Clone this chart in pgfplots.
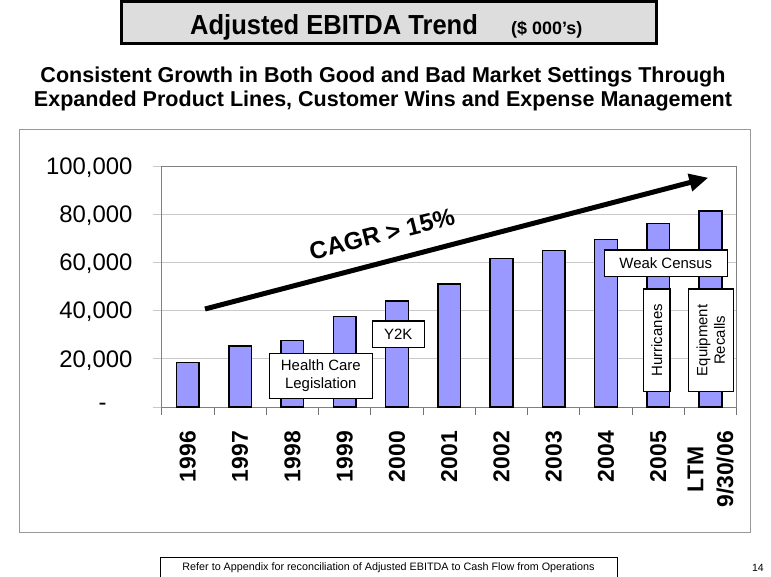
\documentclass[border=0pt]{standalone}
\usepackage{pgfplots}
\pgfplotsset{compat=1.18}
\usepackage{fontspec}
\setmainfont{Liberation Sans}
\usetikzlibrary{arrows.meta}
\definecolor{barblue}{RGB}{153,153,255}
\definecolor{titlegray}{RGB}{221,221,221}
\definecolor{axisgray}{RGB}{128,128,128}
\definecolor{gridgray}{RGB}{200,200,200}
\begin{document}
\begin{tikzpicture}
\path[use as bounding box] (0,0) rectangle (771bp,-577bp);
\begin{scope}[x=1bp,y=-1bp]
  % outer chart frame
  \draw[color=axisgray!80, line width=0.8bp] (19.3,129.3) rectangle (750,532.3);
  % title box
  \draw[line width=3bp, fill=titlegray] (121.5,1.5) rectangle (656,43);
  \node[anchor=base west, inner sep=0pt, font=\fontsize{25.6}{30}\selectfont\bfseries] at (190,34) {\scalebox{1}[1.08]{Adjusted EBITDA Trend}};
  \node[anchor=base west, inner sep=0pt, font=\fontsize{18}{22}\selectfont\bfseries] at (511,34) {(\$ 000’s)};
  % subtitle
  \node[align=center, inner sep=0pt, font=\fontsize{21.6}{25}\selectfont\bfseries] at (383,89) {Consistent Growth in Both Good and Bad Market Settings Through\\Expanded Product Lines, Customer Wins and Expense Management};
  % footer
  \draw[line width=1bp] (160,580) -- (160,557.3) -- (617.3,557.3) -- (617.3,580);
  \node[inner sep=0pt, font=\fontsize{10.8}{13}\selectfont] at (388.5,568) {Refer to Appendix for reconciliation of Adjusted EBITDA to Cash Flow from Operations};
  \node[inner sep=0pt, font=\fontsize{10.5}{13}\selectfont] at (758,568) {14};
\end{scope}

\begin{axis}[
  at={(161.7bp,-407bp)}, anchor=south west,
  width=575bp, height=241bp, scale only axis,
  xmin=-0.5, xmax=10.5, ymin=0, ymax=100000,
  ybar, bar width=22.7bp,
  axis line style={draw=axisgray, line width=0.8bp},
  tick align=outside, tick pos=left,
  xtick={0,1,2,3,4,5,6,7,8,9,10},
  xticklabels={1996,1997,1998,1999,2000,2001,2002,2003,2004,2005,{LTM\\9/30/06}},
  xtick style={draw=none},
  minor xtick={-0.5,0.5,1.5,2.5,3.5,4.5,5.5,6.5,7.5,8.5,9.5,10.5},
  minor x tick style={draw=axisgray!90!black, line width=0.8bp},
  minor tick length=8bp,
  major tick length=9bp,
  ytick={0,20000,40000,60000,80000,100000},
  yticklabels={{-\rule{26bp}{0pt}},{20,000},{40,000},{60,000},{80,000},{100,000}},
  ytick style={draw=gridgray, line width=0.8bp},
  ymajorgrids, grid style={draw=gridgray, line width=0.8bp},
  xticklabel shift=15bp,
  yticklabel shift=20bp,
  xticklabel style={rotate=90, anchor=east, inner sep=0pt, align=center,
    font=\fontsize{23}{30}\selectfont\bfseries},
  yticklabel style={anchor=east, inner sep=0pt, text depth=0pt,
    font=\fontsize{24}{28}\selectfont},
  scaled y ticks=false,
  clip=false,
]
\addplot[fill=barblue, draw=black, line width=1.5bp] coordinates {
 (0,18400) (1,25400) (2,27500) (3,37500) (4,44000) (5,51000)
 (6,61700) (7,64900) (8,69600) (9,76100) (10,81300)
};
\end{axis}

\begin{scope}[x=1bp,y=-1bp]
  % CAGR arrow
  \draw[line width=5bp, -{Triangle[length=19bp,width=17bp]}] (205,309) -- (708.3,177.7);
  \node[rotate=14, inner sep=0pt, font=\fontsize{24.5}{28}\selectfont\bfseries] at (382,234) {CAGR > 15\%};
  % annotation boxes
  \tikzset{anno/.style={draw=black, fill=white, line width=1.2bp, inner sep=0pt, align=center, font=\fontsize{15}{17.6}\selectfont}}
  \node[anno, minimum width=103bp, minimum height=45bp] at (320.8,375.8) {Health Care\\Legislation};
  \node[anno, minimum width=52bp, minimum height=26.3bp] at (398.3,334.2) {Y2K};
  \node[anno, minimum width=123bp, minimum height=26.7bp] at (665.8,263.3) {Weak Census};
  \node[anno, rotate=90, minimum width=102.7bp, minimum height=26.7bp] at (656.7,340.3) {Hurricanes};
  \node[anno, rotate=90, minimum width=102.7bp, minimum height=45bp] at (710.8,340.3) {Equipment\\Recalls};
\end{scope}
\end{tikzpicture}
\end{document}
